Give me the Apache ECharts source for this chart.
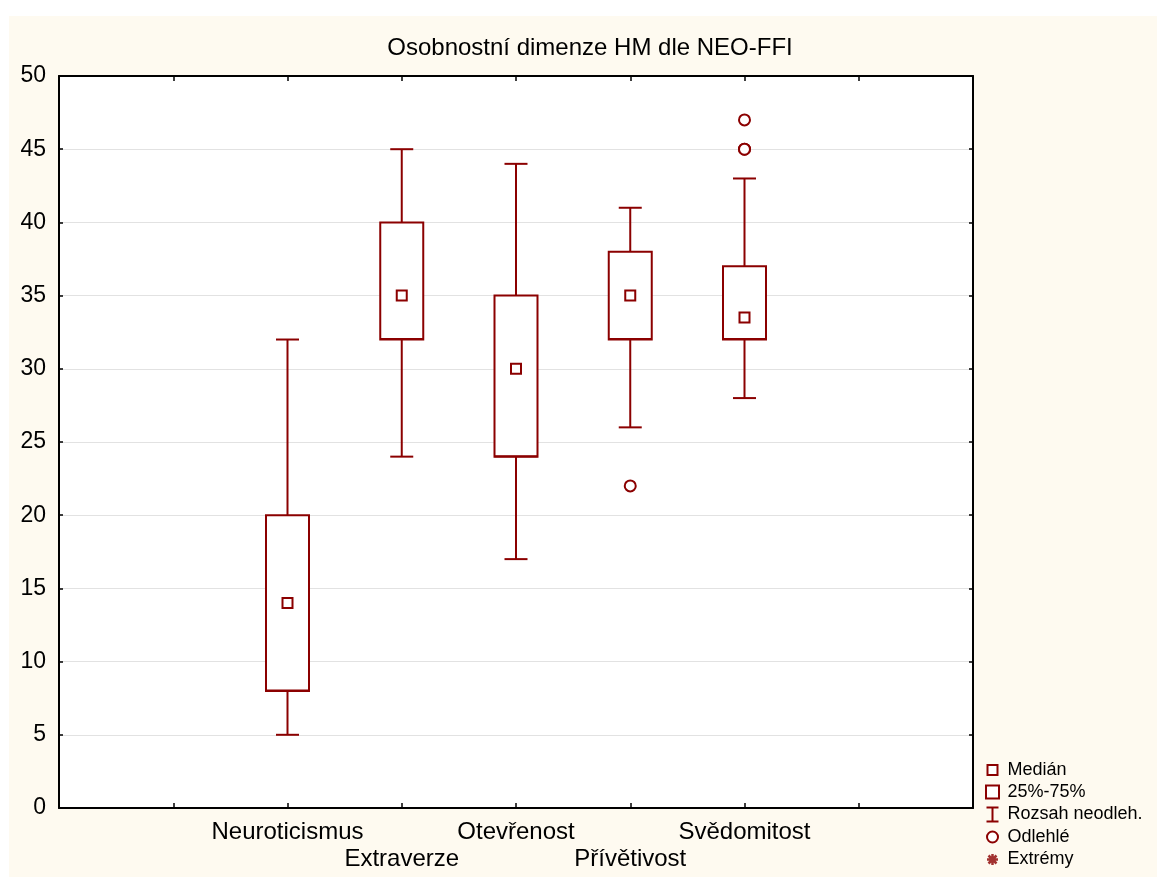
<!DOCTYPE html>
<html>
<head>
<meta charset="utf-8">
<title>Osobnostní dimenze HM dle NEO-FFI</title>
<script src="https://cdn.jsdelivr.net/npm/echarts@6/dist/echarts.min.js"></script>
<style>
  html, body { margin: 0; padding: 0; background: #fff; }
  #chart { width: 1157px; height: 877px; }
</style>
</head>
<body>
<div id="chart"></div>
<script>
// data
const categories = ['Neuroticismus', 'Extraverze', 'Otevřenost', 'Přívětivost', 'Svědomitost'];
const whiskerLow = [5, 24, 17, 26, 28];
const quartile1 = [8, 32, 24, 32, 32];
const medians = [14, 35, 30, 35, 33.5];
const quartile3 = [20, 40, 35, 38, 37];
const whiskerHigh = [32, 45, 44, 41, 43];
const outliers = [['Přívětivost', 22], ['Svědomitost', 45], ['Svědomitost', 45], ['Svědomitost', 47]];
const extremes = [];
const yMin = 0, yMax = 50, yStep = 5;

// two empty slots on each side, like the original axis
const axisCats = ['', ''].concat(categories, ['', '']);

const RED = '#8b0000';
const FONT = 'Liberation Sans, Arial, sans-serif';

const chart = echarts.init(document.getElementById('chart'));

const boxData = categories.map((c, i) => [c, quartile1[i], quartile3[i]]);
const whiskerData = categories.map((c, i) => [c, whiskerLow[i], quartile1[i], quartile3[i], whiskerHigh[i]]);
const medianData = categories.map((c, i) => [c, medians[i]]);

const axisLine = { show: true, onZero: false, lineStyle: { color: '#000', width: 2 } };

chart.setOption({
  backgroundColor: '#fff',
  animation: false,
  textStyle: { fontFamily: FONT },
  graphic: [{
    type: 'rect', z: -10, silent: true,
    shape: { x: 9, y: 16, width: 1148, height: 861 },
    style: { fill: '#fefaf0' }
  }],
  title: {
    text: 'Osobnostní dimenze HM dle NEO-FFI',
    left: 585, top: 31, textAlign: 'center',
    textStyle: { fontFamily: FONT, fontSize: 24, fontWeight: 'normal', color: '#000' }
  },
  grid: { left: 59, top: 76, right: 184, bottom: 69, show: true, backgroundColor: '#fff', borderWidth: 0 },
  legend: {
    orient: 'vertical', left: 983, top: 761, padding: 0,
    itemWidth: 14, itemHeight: 14, itemGap: 4,
    textStyle: { fontFamily: FONT, fontSize: 18, lineHeight: 14, color: '#000', padding: [0, 0, 0, 3] },
    selectedMode: false,
    data: [
      { name: 'Medián', icon: 'path://M0,0M14,14M2,2h10v10h-10z', itemStyle: { color: '#fff', borderColor: RED, borderWidth: 2 } },
      { name: '25%-75%', icon: 'path://M0,0M14,14M0.5,0.5h13v13h-13z', itemStyle: { color: '#fff', borderColor: RED, borderWidth: 2 } },
      { name: 'Rozsah neodleh.', icon: 'path://M0,0M14,14M1,0h12M7,0v14M1,14h12', itemStyle: { color: 'none', borderColor: RED, borderWidth: 2 } },
      { name: 'Odlehlé', icon: 'path://M0,0M14,14M7,1.5a5.5,5.5 0 1,0 0.01,0z', itemStyle: { color: '#fff', borderColor: RED, borderWidth: 2 } },
      { name: 'Extrémy', icon: 'path://M0,0M14,14M7,1.5v11M1.5,7h11M3,3L11,11M11,3L3,11', itemStyle: { color: 'none', borderColor: RED, borderWidth: 2.5 } }
    ]
  },
  xAxis: [{
    type: 'category', data: axisCats, boundaryGap: false, position: 'bottom',
    axisLine: axisLine,
    axisTick: { show: true, inside: true, length: 5, interval: 0, lineStyle: { color: '#000', width: 1.5 } },
    axisLabel: {
      interval: 0, margin: 11, fontFamily: FONT, fontSize: 24, lineHeight: 27, color: '#000',
      formatter: (v, i) => (i % 2 === 1 ? '\n' + v : v)
    },
    splitLine: { show: false }
  }, {
    type: 'category', data: axisCats, boundaryGap: false, position: 'top',
    axisLine: axisLine,
    axisTick: { show: true, inside: true, length: 5, interval: 0, lineStyle: { color: '#000', width: 1.5 } },
    axisLabel: { show: false },
    splitLine: { show: false }
  }],
  yAxis: [{
    type: 'value', min: yMin, max: yMax, interval: yStep, position: 'left',
    axisLine: axisLine,
    axisTick: { show: true, inside: true, length: 4, lineStyle: { color: '#000', width: 1.5 } },
    axisLabel: { margin: 13, fontFamily: FONT, fontSize: 23, color: '#000' },
    splitLine: { show: true, lineStyle: { color: '#e2e2e2', width: 1 } }
  }, {
    type: 'value', min: yMin, max: yMax, interval: yStep, position: 'right',
    axisLine: axisLine,
    axisTick: { show: true, inside: true, length: 4, lineStyle: { color: '#000', width: 1.5 } },
    axisLabel: { show: false },
    splitLine: { show: false }
  }],
  series: [{
    name: 'Rozsah neodleh.',
    type: 'custom',
    z: 3,
    data: whiskerData,
    encode: { x: 0, y: [1, 2, 3, 4] },
    renderItem: (params, api) => {
      const lo = api.coord([api.value(0), api.value(1)]);
      const q1 = api.coord([api.value(0), api.value(2)]);
      const q3 = api.coord([api.value(0), api.value(3)]);
      const hi = api.coord([api.value(0), api.value(4)]);
      const x = lo[0];
      const cap = 11.5;
      const st = { stroke: RED, lineWidth: 2, fill: null };
      return {
        type: 'group',
        children: [
          { type: 'line', shape: { x1: x, y1: lo[1], x2: x, y2: q1[1] }, style: st },
          { type: 'line', shape: { x1: x, y1: q3[1], x2: x, y2: hi[1] }, style: st },
          { type: 'line', shape: { x1: x - cap, y1: lo[1], x2: x + cap, y2: lo[1] }, style: st },
          { type: 'line', shape: { x1: x - cap, y1: hi[1], x2: x + cap, y2: hi[1] }, style: st }
        ]
      };
    }
  }, {
    name: '25%-75%',
    type: 'custom',
    z: 4,
    data: boxData,
    encode: { x: 0, y: [1, 2] },
    renderItem: (params, api) => {
      const lo = api.coord([api.value(0), api.value(1)]);
      const hi = api.coord([api.value(0), api.value(2)]);
      const half = 21.5;
      return {
        type: 'group',
        children: [
          {
            type: 'rect',
            shape: { x: lo[0] - half, y: hi[1], width: half * 2, height: lo[1] - hi[1] },
            style: { fill: '#fff', stroke: RED, lineWidth: 2 }
          },
          // lower quartile edge is drawn a little heavier in the original
          {
            type: 'line',
            shape: { x1: lo[0] - half, y1: lo[1] - 0.5, x2: lo[0] + half, y2: lo[1] - 0.5 },
            style: { stroke: RED, lineWidth: 2 }
          }
        ]
      };
    }
  }, {
    name: 'Medián',
    type: 'scatter',
    z: 5,
    data: medianData,
    symbol: 'rect',
    symbolSize: 10,
    itemStyle: { color: '#fff', borderColor: RED, borderWidth: 2, opacity: 1 }
  }, {
    name: 'Odlehlé',
    type: 'scatter',
    z: 5,
    data: outliers,
    symbol: 'circle',
    symbolSize: 11,
    itemStyle: { color: '#fff', borderColor: RED, borderWidth: 2, opacity: 1 }
  }, {
    name: 'Extrémy',
    type: 'scatter',
    z: 5,
    data: extremes,
    symbol: 'path://M7,1.5v11M1.5,7h11M3,3L11,11M11,3L3,11',
    symbolSize: 11,
    itemStyle: { color: 'none', borderColor: RED, borderWidth: 2 }
  }]
});
</script>
</body>
</html>
